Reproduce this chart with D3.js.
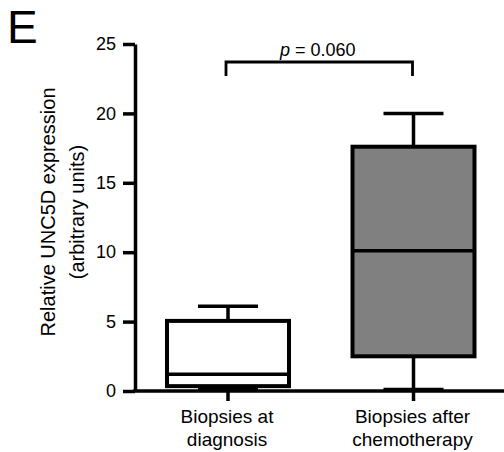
<!DOCTYPE html>
<html>
<head>
<meta charset="utf-8">
<script src="https://cdn.jsdelivr.net/npm/d3@7"></script>
<style>
  body { margin: 0; background: #fff; }
  svg { display: block; font-family: "Liberation Sans", Arial, sans-serif; }
</style>
</head>
<body>
<div id="chart"></div>
<script>
const groups = ["Biopsies at\ndiagnosis", "Biopsies after\nchemotherapy"];
const mins = [0.2, 0.1];
const q1s = [0.35, 2.5];
const medians = [1.2, 10.1];
const q3s = [5.05, 17.6];
const maxs = [6.1, 20.0];
const fills = ["#ffffff", "#808080"];
const yTicks = [0, 5, 10, 15, 20, 25];
const pLabel = "0.060";

const width = 504, height = 452;
const margin = { top: 44, right: 0, bottom: 61, left: 135 };

const svg = d3.select("#chart").append("svg")
  .attr("width", width).attr("height", height);

const y = d3.scaleLinear().domain([0, 25])
  .range([height - margin.bottom, margin.top]);

const x = d3.scalePoint().domain(groups)
  .range([228, 413.5]);

const boxW = 122, capW = 60;

// y axis
const gy = svg.append("g")
  .attr("transform", `translate(${margin.left},0)`)
  .call(d3.axisLeft(y).tickValues(yTicks).tickSize(12).tickSizeOuter(0).tickPadding(7));
gy.select(".domain").attr("stroke-width", 3.5);
gy.selectAll(".tick line").attr("stroke-width", 3.5);
gy.selectAll(".tick text").attr("font-size", 18).attr("fill", "#000")
  .attr("font-family", "Liberation Sans, Arial, sans-serif");

// x axis
const gx = svg.append("g")
  .attr("transform", `translate(0,${y(0)})`);
gx.append("line")
  .attr("x1", margin.left - 1.75).attr("x2", width)
  .attr("stroke", "#000").attr("stroke-width", 3.5);
gx.selectAll(".xtick").data(groups).join("line")
  .attr("class", "xtick")
  .attr("x1", d => x(d)).attr("x2", d => x(d))
  .attr("y1", 0).attr("y2", 10)
  .attr("stroke", "#000").attr("stroke-width", 3.5);
gx.selectAll(".xlabel").data(groups).join("text")
  .attr("class", "xlabel")
  .attr("text-anchor", "middle")
  .attr("font-size", 19)
  .selectAll("tspan").data(d => d.split("\n").map(t => ({ t, g: d })))
  .join("tspan")
  .attr("x", d => x(d.g) - 1)
  .attr("y", (d, i) => 32 + i * 23)
  .text(d => d.t);

// boxes
const box = svg.append("g").selectAll("g").data(groups).join("g");
box.each(function (g, i) {
  const s = d3.select(this);
  const cx = x(g);
  const line = (x1, y1, x2, y2) => s.append("line")
    .attr("x1", x1).attr("y1", y1).attr("x2", x2).attr("y2", y2)
    .attr("stroke", "#000").attr("stroke-width", 3.5);
  line(cx, y(q3s[i]), cx, y(maxs[i]));
  line(cx, y(q1s[i]), cx, y(mins[i]));
  line(cx - capW / 2, y(maxs[i]), cx + capW / 2, y(maxs[i]));
  line(cx - capW / 2, y(mins[i]), cx + capW / 2, y(mins[i]));
  s.append("rect")
    .attr("x", cx - boxW / 2).attr("width", boxW)
    .attr("y", y(q3s[i])).attr("height", y(q1s[i]) - y(q3s[i]))
    .attr("fill", fills[i]).attr("stroke", "#000").attr("stroke-width", 4);
  line(cx - boxW / 2, y(medians[i]), cx + boxW / 2, y(medians[i]));
});

// significance bracket
const by = 62;
svg.append("path")
  .attr("d", `M${x(groups[0]) - 2},${by + 14}V${by}H${x(groups[1]) - 1}V${by + 14}`)
  .attr("fill", "none").attr("stroke", "#000").attr("stroke-width", 2.8);
const pt = svg.append("text")
  .attr("x", (x(groups[0]) + x(groups[1])) / 2 - 3)
  .attr("y", by - 6)
  .attr("text-anchor", "middle")
  .attr("font-size", 18);
pt.append("tspan").attr("font-style", "italic").text("p");
pt.append("tspan").text(" = " + pLabel);

// y label
const yl = svg.append("text")
  .attr("transform", `translate(0,212) rotate(-90)`)
  .attr("text-anchor", "middle")
  .attr("font-size", 20);
yl.append("tspan").attr("x", 0).attr("y", 55).text("Relative UNC5D expression");
yl.append("tspan").attr("x", 0).attr("y", 84).text("(arbitrary units)");

// panel letter
svg.append("text")
  .attr("x", 7).attr("y", 43)
  .attr("font-size", 46)
  .text("E");
</script>
</body>
</html>
